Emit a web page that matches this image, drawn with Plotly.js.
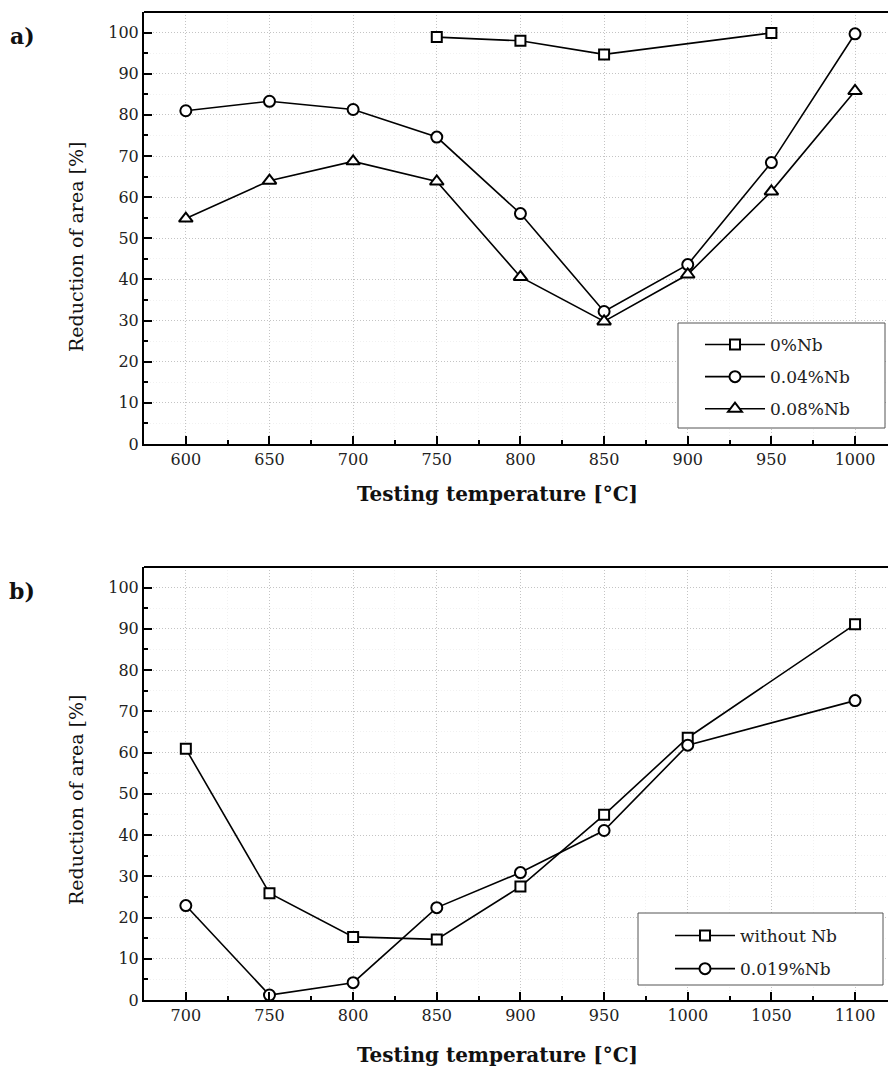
<!DOCTYPE html>
<html>
<head>
<meta charset="utf-8">
<script src="https://cdn.plot.ly/plotly-3.0.1.min.js"></script>
<style>html,body{margin:0;padding:0;background:#fff;}#chart{width:888px;height:1077px;}</style>
</head>
<body>
<div id="chart"></div>
<script>
// ---- data ----
const tempA = [600, 650, 700, 750, 800, 850, 900, 950, 1000];
const tempA_0Nb = [750, 800, 850, 950];
const ra_0Nb = [98.9, 98.0, 94.7, 99.9];
const ra_004Nb = [81.0, 83.3, 81.3, 74.6, 56.0, 32.2, 43.6, 68.4, 99.7];
const ra_008Nb = [54.8, 64.0, 68.7, 63.8, 40.6, 29.8, 41.2, 61.4, 85.8];

const tempB = [700, 750, 800, 850, 900, 950, 1000, 1100];
const rb_withoutNb = [60.9, 25.9, 15.3, 14.7, 27.5, 44.9, 63.6, 91.1];
const rb_0019Nb = [22.9, 1.2, 4.2, 22.4, 30.9, 41.1, 61.8, 72.6];

const namesA = ['0%Nb', '0.04%Nb', '0.08%Nb'];
const namesB = ['without Nb', '0.019%Nb'];
const xTitle = 'Testing temperature [°C]';
const yTitle = 'Reduction of area [%]';

// ---- styling ----
const SERIF = '"DejaVu Serif", "Liberation Serif", serif';
const lineStyle = {color: '#000', width: 1.6};
function mk(sym, size) {
  return {symbol: sym, size: size, color: '#fff', line: {color: '#000', width: 2}};
}
function tr(x, y, name, sym, size, xa, ya, lg, grp) {
  return {x: x, y: y, name: name, type: 'scatter', mode: 'lines+markers',
    line: lineStyle, marker: mk(sym, size), xaxis: xa, yaxis: ya, legend: lg,
    legendgroup: grp, cliponaxis: false};
}
const traces = [
  tr(tempA_0Nb, ra_0Nb, namesA[0], 'square', 10, 'x', 'y', 'legend', 'a1'),
  tr(tempA, ra_004Nb, namesA[1], 'circle', 11, 'x', 'y', 'legend', 'a2'),
  tr(tempA, ra_008Nb, namesA[2], 'triangle-up', 12, 'x', 'y', 'legend', 'a3'),
  tr(tempB, rb_withoutNb, namesB[0], 'square', 10, 'x2', 'y2', 'legend2', 'b1'),
  tr(tempB, rb_0019Nb, namesB[1], 'circle', 11, 'x2', 'y2', 'legend2', 'b2')
];

const tickFont = {family: SERIF, size: 16, color: '#222'};
const GRID = '#c4c4c4';
const GDASH = '1px,2px';
function xaxis(range, anchor) {
  return {
    range: range, anchor: anchor, tick0: 0, dtick: 50,
    showline: true, linecolor: '#000', linewidth: 2,
    ticks: 'inside', ticklen: 8, tickwidth: 2, tickcolor: '#000',
    showgrid: true, gridcolor: GRID, griddash: GDASH, gridwidth: 1,
    minor: {dtick: 25, ticks: 'inside', ticklen: 4, tickwidth: 2, tickcolor: '#000', showgrid: true, gridcolor: '#f1f1f1', griddash: GDASH},
    zeroline: false, tickfont: tickFont, fixedrange: true
  };
}
function yaxis(domain, anchor) {
  return {
    range: [0, 105], domain: domain, anchor: anchor, tick0: 0, dtick: 10,
    showline: true, linecolor: '#000', linewidth: 2,
    ticks: 'inside', ticklen: 8, tickwidth: 2, tickcolor: '#000',
    showgrid: true, gridcolor: GRID, griddash: GDASH, gridwidth: 1,
    minor: {dtick: 5, ticks: 'inside', ticklen: 4, tickwidth: 2, tickcolor: '#000', showgrid: true, gridcolor: '#f1f1f1', griddash: GDASH},
    zeroline: false, tickfont: tickFont, fixedrange: true
  };
}

const W = 888, H = 1077, L = 144, T = 12, B = 77;
const plotW = W - L, plotH = H - T - B;
function fx(px) { return (px - L) / plotW; }
function fy(py) { return (H - B - py) / plotH; }

const titleFont = {family: SERIF, size: 19, color: '#111'};
const boldTitleFont = {family: SERIF, size: 20, color: '#111'};
const legFont = {family: SERIF, size: 17, color: '#222'};

function legendBox(x0, y0, x1, y1) {
  return {type: 'rect', xref: 'paper', yref: 'paper', x0: fx(x0), x1: fx(x1), y0: fy(y1), y1: fy(y0),
    line: {color: '#555', width: 1}, fillcolor: '#fff', layer: 'above'};
}

const layout = {
  width: W, height: H,
  margin: {l: L, r: 0, t: T, b: B, pad: 0},
  paper_bgcolor: '#fff', plot_bgcolor: '#fff',
  showlegend: true,
  xaxis: xaxis([575, 1019.7], 'y'),
  yaxis: yaxis([fy(444), 1], 'x'),
  xaxis2: xaxis([675, 1119.7], 'y2'),
  yaxis2: yaxis([0, fy(567)], 'x2'),
  legend: {x: fx(700), y: fy(327), xanchor: 'left', yanchor: 'top',
    borderwidth: 0, bgcolor: 'rgba(0,0,0,0)', font: legFont, itemwidth: 60,
    traceorder: 'grouped', tracegroupgap: 7},
  legend2: {x: fx(670), y: fy(918), xanchor: 'left', yanchor: 'top',
    borderwidth: 0, bgcolor: 'rgba(0,0,0,0)', font: legFont, itemwidth: 60,
    traceorder: 'grouped', tracegroupgap: 8},
  shapes: [
    {type: 'line', xref: 'paper', yref: 'paper', x0: 0, x1: 1, y0: 1, y1: 1, line: {color: '#000', width: 2}},
    {type: 'line', xref: 'paper', yref: 'paper', x0: 0, x1: 1, y0: fy(567), y1: fy(567), line: {color: '#000', width: 2}},
    legendBox(678, 323, 885, 428),
    legendBox(638, 913, 883, 985)
  ],
  annotations: [
    {text: '<b>a)</b>', xref: 'paper', yref: 'paper', x: fx(22), y: fy(36), showarrow: false,
      font: {family: SERIF, size: 22, color: '#111'}, xanchor: 'center', yanchor: 'middle'},
    {text: '<b>b)</b>', xref: 'paper', yref: 'paper', x: fx(22), y: fy(591), showarrow: false,
      font: {family: SERIF, size: 22, color: '#111'}, xanchor: 'center', yanchor: 'middle'},
    {text: yTitle, xref: 'paper', yref: 'paper', x: fx(76), y: fy(247), textangle: -90, showarrow: false,
      font: titleFont, xanchor: 'center', yanchor: 'middle'},
    {text: yTitle, xref: 'paper', yref: 'paper', x: fx(76), y: fy(800), textangle: -90, showarrow: false,
      font: titleFont, xanchor: 'center', yanchor: 'middle'},
    {text: '<b>' + xTitle + '</b>', xref: 'paper', yref: 'paper', x: fx(497), y: fy(494), showarrow: false,
      font: boldTitleFont, xanchor: 'center', yanchor: 'middle'},
    {text: '<b>' + xTitle + '</b>', xref: 'paper', yref: 'paper', x: fx(497), y: fy(1055), showarrow: false,
      font: boldTitleFont, xanchor: 'center', yanchor: 'middle'}
  ]
};

Plotly.newPlot('chart', traces, layout, {displayModeBar: false, staticPlot: true});
</script>
</body>
</html>
